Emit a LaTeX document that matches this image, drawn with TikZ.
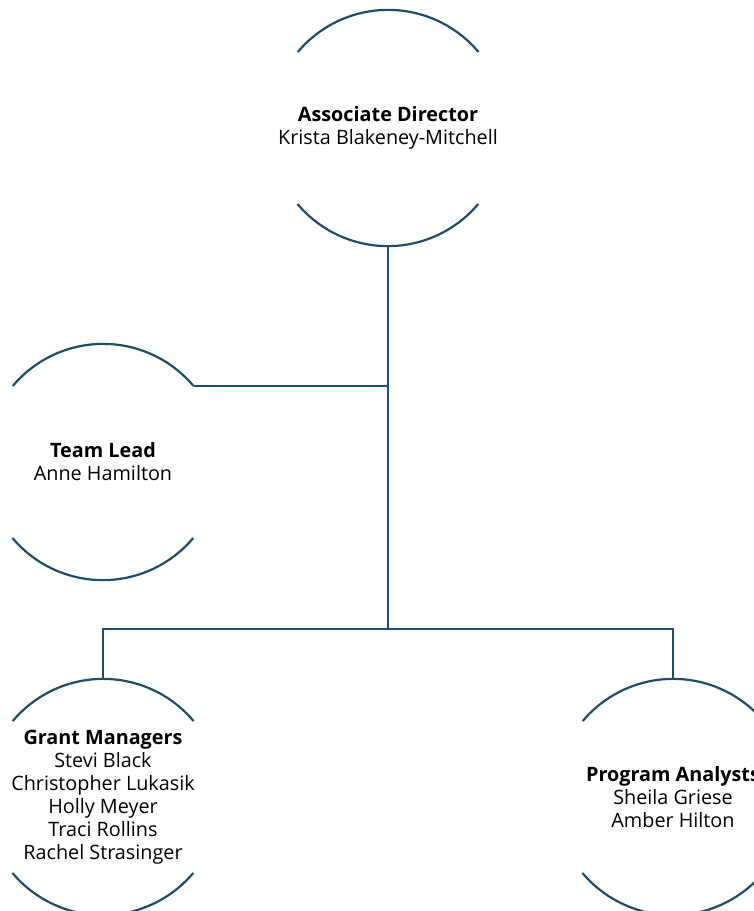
\documentclass[tikz,border=0pt]{standalone}
\usepackage{fontspec}
\setmainfont{Open Sans}
\usetikzlibrary{positioning}
\definecolor{rimblue}{HTML}{1C4E68}

\begin{document}
\begin{tikzpicture}[x=1pt,y=-1pt,
  role node/.style={circle,minimum size=236pt,inner sep=0pt,
    label={[align=center,font=\fontsize{19.8}{23}\selectfont]center:#1}},
  rim/.style={draw=rimblue,line width=2.2pt}]

  \useasboundingbox (0,0) rectangle (754,911);
  \clip (0,0) rectangle (754,911);

  \node[role node={\textbf{Associate Director}\\Krista Blakeney-Mitchell}] (ad) at (388,128) {};
  \node[role node={\textbf{Team Lead}\\Anne Hamilton}] (tl) at (103,462) {};
  \node[role node={\textbf{Grant Managers}\\Stevi Black\\Christopher Lukasik\\Holly Meyer\\Traci Rollins\\Rachel Strasinger}] (gm) at (103,797) {};
  \node[role node={\textbf{Program Analysts}\\Sheila Griese\\Amber Hilton}] (pa) at (673,797) {};

  \foreach \n in {ad,tl,gm,pa}
    \draw[rim] (\n.40) arc[start angle=40,end angle=140,radius=118pt]
               (\n.220) arc[start angle=220,end angle=320,radius=118pt];

  \coordinate (bus) at (ad.south |- 0,629);

  \draw[rim] (tl.40) -- (tl.40 -| ad.south);
  \draw[rim] (ad.south) -- (bus);
  \draw[rim] (gm.north) |- (bus) -| (pa.north);
\end{tikzpicture}
\end{document}
